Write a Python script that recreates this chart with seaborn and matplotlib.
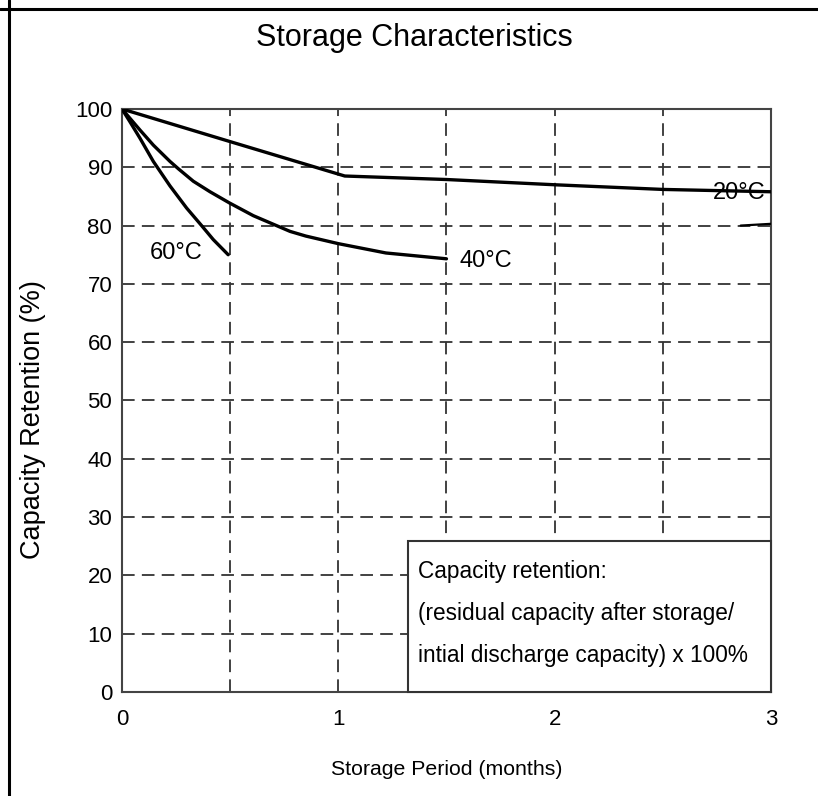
import numpy as np
import pandas as pd
import seaborn as sns
import matplotlib
matplotlib.use("Agg")
import matplotlib.pyplot as plt
from matplotlib.patches import Rectangle
from matplotlib.lines import Line2D

# curves (months, % retention)
months_20c = [0, 0.5, 1.03, 1.5, 2.0, 2.5, 3.0]
retention_20c = [100, 94.4, 88.5, 87.9, 87.0, 86.2, 85.8]
months_40c = [0, 0.083, 0.145, 0.222, 0.262, 0.33, 0.407, 0.496, 0.607, 0.777, 0.85, 1.0, 1.22, 1.5]
retention_40c = [100, 96.4, 93.8, 91.0, 89.7, 87.6, 85.8, 83.9, 81.7, 79.0, 78.2, 76.9, 75.3, 74.3]
months_60c = [0, 0.037, 0.083, 0.145, 0.222, 0.299, 0.368, 0.422, 0.491]
retention_60c = [100, 97.8, 95.0, 91.0, 86.8, 83.0, 80.0, 77.6, 75.0]
stub_months = [2.86, 3.0]
stub_retention = [80.0, 80.3]

curve_labels = ["20°C", "40°C", "60°C"]
x_ticks = [0, 1, 2, 3]
y_ticks = [0, 10, 20, 30, 40, 50, 60, 70, 80, 90, 100]
note_lines = ["Capacity retention:",
              "(residual capacity after storage/",
              "intial discharge capacity) x 100%"]

sns.set_style("white")
plt.rcParams['font.family'] = ['Liberation Sans', 'DejaVu Sans']
plt.rcParams['text.color'] = 'black'
plt.rcParams['axes.labelcolor'] = 'black'
plt.rcParams['xtick.color'] = 'black'
plt.rcParams['ytick.color'] = 'black'

fig = plt.figure(figsize=(8.18, 7.96), dpi=100)
ax = fig.add_axes([0.1491, 0.1307, 0.7934, 0.7324])

for xs, ys in [(months_20c, retention_20c), (months_40c, retention_40c), (months_60c, retention_60c)]:
    df = pd.DataFrame({"month": xs, "ret": ys})
    sns.lineplot(data=df, x="month", y="ret", sort=False, color="black", lw=2.4, ax=ax, zorder=3)
sns.lineplot(x=stub_months, y=stub_retention, color="black", lw=1.6, ax=ax, zorder=3)

ax.set_xlim(0, 3)
ax.set_ylim(0, 100)
ax.set_xticks(x_ticks)
ax.set_yticks(y_ticks)
ax.set_xticklabels([str(t) for t in x_ticks], fontsize=16)
ax.set_yticklabels([str(t) for t in y_ticks], fontsize=16)
ax.tick_params(axis='x', length=0, pad=12)
ax.tick_params(axis='y', length=0, pad=7)

# dashed grid
for gx in [0.5, 1, 1.5, 2, 2.5]:
    ax.axvline(gx, color="#333333", lw=1.3, ls=(0, (7, 4)), zorder=1)
for gy in y_ticks[1:-1]:
    ax.axhline(gy, color="#333333", lw=1.3, ls=(0, (7, 4)), zorder=1)

for sp in ax.spines.values():
    sp.set_color("#444444")
    sp.set_linewidth(1.5)

ax.set_xlabel("Storage Period (months)", fontsize=15.3)
ax.xaxis.set_label_coords(0.5, -(770 - 692) / 583, transform=ax.transAxes)
ax.set_ylabel("Capacity Retention (%)", fontsize=19.5)
ax.yaxis.set_label_coords((33 - 122) / 649, (692 - 420) / 583, transform=ax.transAxes)
ax.xaxis.label.set_va("center")
ax.yaxis.label.set_va("center")

# curve labels
ax.text(0.25, 75.3, curve_labels[2], fontsize=17, ha="center", va="center", zorder=4)
ax.text(1.56, 74.0, curve_labels[1], fontsize=17, ha="left", va="center", zorder=4)
ax.text(2.73, 85.6, curve_labels[0], fontsize=17, ha="left", va="center", zorder=4)

# note box
ax.add_patch(Rectangle((1.32, 0), 1.68, 25.9, facecolor="white", edgecolor="#333333",
                       lw=1.5, zorder=5, clip_on=False))
for yy, line in zip([20.6, 13.5, 6.3], note_lines):
    ax.text(1.368, yy, line, fontsize=16.3, ha="left", va="center", zorder=6)

fig.text(0.506, 1 - 38 / 796, "Storage Characteristics", fontsize=22, ha="center", va="center")

# frame lines on top and left
fig.add_artist(Line2D([0, 1], [1 - 9 / 796, 1 - 9 / 796], color="black", lw=2.2))
fig.add_artist(Line2D([9 / 818, 9 / 818], [0, 1], color="black", lw=2.2))

fig.savefig("out.png", dpi=100, facecolor="white")
